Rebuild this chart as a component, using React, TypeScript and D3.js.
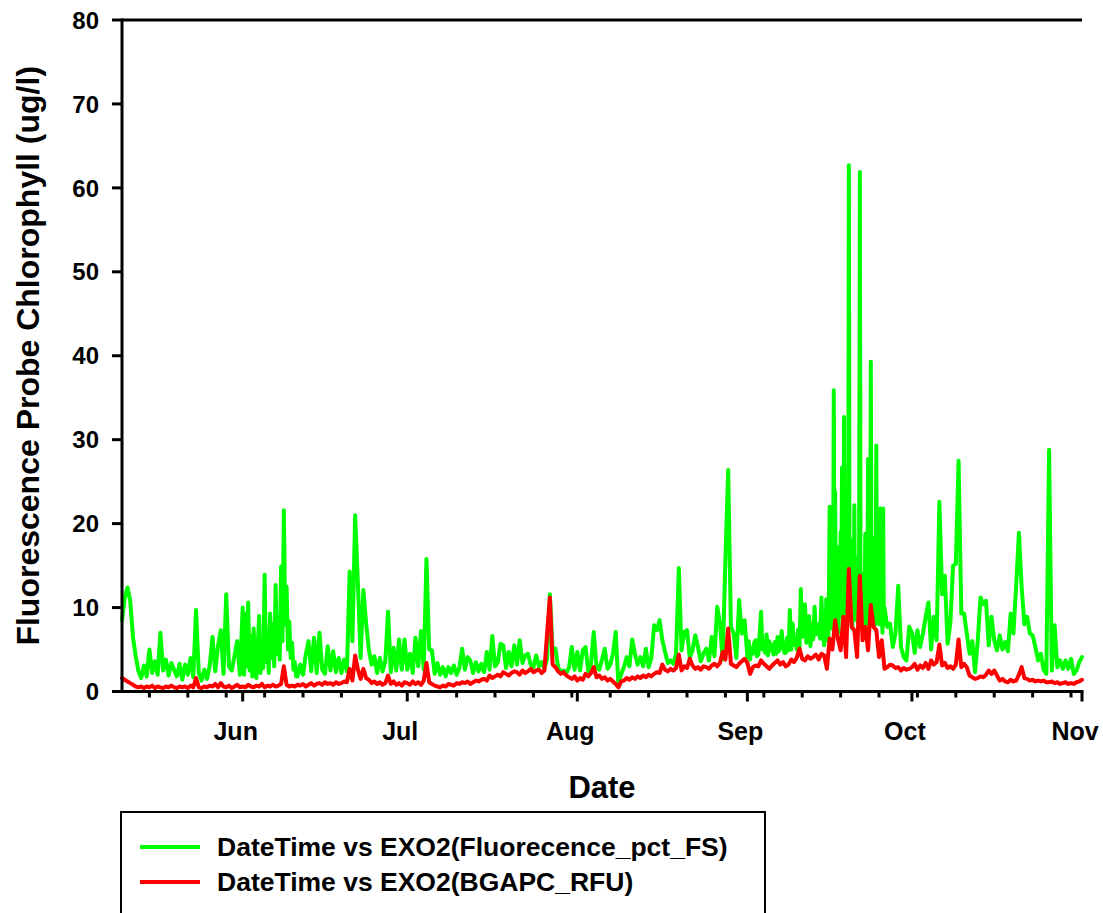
import React from 'react';
import * as d3 from 'd3';

// ---- EXO2 fluorescence (ug/l) ----
// half-day readings from 2016-05-10
const greenMay = [
  8.5, 11.2, 12.4, 10.8, 6.5, 4.2, 2.4, 1.6, 3.1, 1.8,
  5.0, 2.2, 3.6, 2.0, 7.0, 2.5, 3.8, 1.9, 3.4, 2.6,
  1.8, 3.3, 1.4, 3.2, 2.0, 4.0, 1.7, 9.7, 2.2, 1.3,
  2.6, 1.5, 3.1, 6.5, 2.4, 5.4, 7.3, 2.1, 11.6, 3.0,
  2.5, 4.2, 6.0, 2.0,
];
// 6-hourly readings, 2016-06-01 .. 06-10
const greenJunEarly = [
  10.0, 2.0, 9.3, 3.0, 10.6, 2.5, 6.6, 1.8, 7.5, 3.2,
  1.6, 5.5, 9.0, 2.2, 6.0, 2.8, 13.9, 3.5, 7.0, 2.2,
  9.3, 4.0, 8.0, 3.0, 12.7, 4.5, 9.0, 3.8, 14.9, 6.0,
  21.6, 8.0, 12.5, 5.0, 8.3, 4.0, 5.8, 2.6, 3.5, 1.8,
];
// half-day readings from 2016-06-11
const greenJun = [
  1.8, 3.2, 2.0, 4.4, 6.0, 2.4, 6.4, 2.2, 7.0, 2.6,
  2.1, 5.4, 2.5, 4.8, 2.3, 4.0, 2.2, 3.8, 2.4, 14.3,
  6.0, 21.0, 12.9, 4.0, 12.1, 8.1, 5.0, 3.2, 4.2, 2.2,
  4.0, 2.4, 3.6, 9.5, 2.3, 5.2, 2.5, 6.2, 2.6, 6.2,
];
const greenJul = [
  2.6, 4.5, 2.2, 6.4, 3.0, 7.2, 2.6, 15.8, 5.0, 4.9,
  2.1, 3.4, 2.0, 2.9, 1.8, 2.9, 2.2, 3.1, 2.0, 2.8,
  5.1, 2.6, 4.1, 3.7, 2.2, 3.5, 2.4, 3.3, 2.3, 4.7,
  2.6, 6.6, 3.0, 3.5, 5.7, 5.5, 2.8, 4.7, 3.0, 5.5,
  3.2, 6.1, 3.4, 4.3, 4.5, 3.2, 2.9, 4.3, 3.0, 3.5,
  2.7, 3.9, 11.6, 4.9, 5.1, 2.9, 2.3, 2.5, 2.2, 2.9,
  5.3, 2.6,
];
const greenAug = [
  4.7, 2.5, 4.9, 5.3, 2.4, 3.3, 7.1, 2.9, 2.6, 3.8,
  5.1, 2.7, 3.2, 4.5, 7.1, 0.6, 2.1, 2.9, 4.1, 3.0,
  6.2, 4.5, 3.2, 4.1, 3.0, 5.1, 2.9, 4.0, 7.9, 7.3,
  8.5, 6.1, 4.7, 3.4, 3.7, 3.3, 4.5, 14.7, 4.9, 7.1,
  7.3, 4.0, 4.9, 6.7, 5.3, 3.6, 4.5, 5.1, 3.7, 6.5,
  4.2, 10.1, 8.1, 3.8, 15.8, 26.4, 7.7, 6.9, 4.0, 10.9,
  6.9, 8.5,
];
// 6-hourly readings, 2016-09-01 .. 09-14
const greenSepEarly = [
  4.1, 6.0, 3.8, 5.2, 4.5, 5.8, 6.1, 4.2, 4.4, 7.0,
  9.5, 5.0, 5.3, 4.6, 6.8, 4.3, 6.0, 4.9, 5.5, 4.4,
  5.9, 4.5, 6.5, 4.8, 5.3, 7.2, 5.5, 4.6, 4.6, 6.4,
  4.9, 9.7, 5.0, 8.1, 5.6, 6.1, 5.0, 7.4, 4.8, 12.2,
  6.5, 7.6, 10.4, 5.8, 6.1, 9.0, 5.4, 8.1, 6.2, 10.1,
  6.8, 7.7, 8.0, 6.3, 11.2, 7.0,
];
// 3-hourly readings during the bloom, 2016-09-15 .. 09-25
const greenSepBloom = [
  5.5, 8.0, 6.5, 11.0, 7.0, 9.5, 6.0, 12.0,
  22.0, 9.0, 14.0, 7.5, 21.6, 10.0, 35.9, 12.0,
  23.8, 8.0, 13.0, 9.5, 17.2, 7.0, 14.0, 11.0,
  19.0, 9.0, 26.7, 12.0, 8.5, 32.7, 10.0, 15.0,
  16.0, 8.0, 18.0, 11.0, 62.7, 9.0, 16.0, 12.5,
  18.0, 7.5, 14.0, 10.0, 22.2, 9.0, 16.0, 8.5,
  14.0, 10.5, 8.0, 16.0, 61.9, 10.0, 14.0, 9.0,
  14.0, 7.0, 12.0, 9.5, 18.8, 11.0, 13.0, 8.0,
  27.7, 12.0, 18.4, 9.0, 39.3, 14.0, 18.4, 10.0,
  16.0, 9.0, 12.0, 8.0, 29.3, 11.0, 14.0, 9.0,
  14.0, 8.0, 21.8, 10.0, 12.0, 7.0, 21.8, 8.0,
];
// half-day readings from 2016-09-26
const greenSepLate = [10.0, 7.7, 8.1, 5.3, 6.9, 12.6, 5.3, 4.1, 3.7, 7.7];
// half-day readings from 2016-10-01 through 11-01
const greenOct = [
  7.0, 4.6, 7.3, 5.3, 6.9, 8.9, 10.6, 5.0, 8.9, 6.1,
  22.6, 11.6, 13.8, 5.7, 8.1, 15.0, 15.2, 27.5, 9.3, 9.3,
  6.9, 4.5, 6.0, 2.3, 6.1, 11.2, 10.4, 10.8, 5.5, 8.9,
  6.1, 4.9, 6.7, 5.0, 5.9, 4.8, 9.3, 6.9, 12.6, 18.9,
  12.4, 8.0, 8.9, 6.9, 6.7, 5.3, 3.7, 4.5, 2.6, 2.1,
  28.8, 2.5, 7.9, 2.9, 3.7, 2.7, 3.7, 2.7, 3.9, 2.1,
  2.5, 3.5, 4.1,
];

// ---- EXO2 BGAPC RFU, half-day readings from 2016-05-10 ----
const redMay = [
  1.6, 1.4, 1.2, 1.0, 0.8, 0.6, 0.5, 0.6, 0.4, 0.6,
  0.5, 0.7, 0.4, 0.6, 0.5, 0.4, 0.6, 0.5, 0.7, 0.5,
  0.4, 0.6, 0.5, 0.6, 0.4, 0.7, 0.5, 1.6, 0.5, 0.4,
  0.6, 0.5, 0.7, 0.6, 0.9, 0.5, 1.0, 0.6, 0.5, 0.7,
  0.4, 0.6, 0.8, 0.5,
];
const redJun = [
  0.6, 0.5, 0.8, 0.6, 0.5, 0.7, 0.6, 0.9, 0.5, 0.7,
  0.6, 0.8, 0.6, 0.7, 0.9, 3.0, 0.8, 0.6, 0.7, 0.6,
  0.8, 0.7, 0.9, 0.6, 0.8, 1.0, 0.7, 0.9, 1.0, 0.8,
  1.1, 0.9, 1.0, 0.8, 1.1, 0.9, 1.0, 1.2, 1.1, 2.7,
  1.3, 4.3, 2.6, 1.5, 2.7, 1.6, 1.4, 1.0, 1.2, 0.9,
  1.1, 0.8, 1.0, 1.9, 0.9, 1.2, 0.8, 1.0, 0.7, 1.1,
];
const redJul = [
  1.0, 0.8, 1.2, 0.9, 1.1, 0.8, 1.3, 3.4, 1.1, 0.9,
  0.7, 0.6, 0.5, 0.7, 0.6, 0.9, 0.8, 0.7, 1.0, 0.9,
  1.1, 1.0, 1.2, 0.9, 1.1, 1.3, 1.2, 1.4, 1.5, 1.3,
  1.9, 1.6, 1.8, 2.0, 1.8, 2.3, 2.1, 1.9, 2.2, 2.4,
  2.3, 2.0, 2.5, 2.2, 2.4, 2.7, 2.3, 2.5, 2.6, 2.2,
  2.5, 7.0, 11.2, 3.2, 2.9, 2.4, 2.1, 2.3, 1.9, 1.7,
  1.5, 1.8,
];
const redAug = [
  1.3, 1.6, 1.4, 2.1, 1.8, 2.2, 2.9, 1.7, 1.9, 1.5,
  1.7, 1.3, 1.5, 1.2, 0.9, 0.5, 1.2, 1.3, 1.6, 1.4,
  1.7, 1.5, 1.8, 1.6, 1.9, 1.7, 2.0, 1.8, 2.1, 2.3,
  2.2, 3.2, 2.6, 2.4, 2.7, 2.5, 2.8, 4.4, 2.5, 3.0,
  2.8, 3.9, 3.1, 2.7, 2.9, 2.6, 3.0, 2.9, 2.7, 3.1,
  3.3, 3.0, 3.4, 4.7, 3.8, 7.5, 3.3, 3.1, 2.9, 3.3,
  3.6, 3.9,
];
const redSep = [
  3.4, 2.1, 2.9, 3.1, 3.0, 3.7, 3.3, 3.0, 2.7, 3.1,
  3.4, 3.7, 3.2, 3.5, 3.0, 3.2, 3.8, 3.5, 4.0, 5.1,
  3.9, 3.7, 4.2, 3.9, 4.1, 4.4, 3.8, 4.5, 4.3, 2.7,
  6.3, 5.0, 8.5, 6.3, 4.9, 8.9, 4.1, 14.6, 7.7, 7.3,
  4.1, 13.8, 6.1, 7.7, 4.9, 10.3, 7.7, 7.3, 4.1, 6.1,
  2.7, 2.9, 3.2, 3.1, 2.8, 2.9, 2.5, 2.8, 2.6, 2.7,
];
const redOct = [
  2.9, 3.3, 2.6, 3.1, 2.8, 3.4, 2.7, 3.7, 3.2, 3.5,
  5.6, 3.1, 3.4, 2.8, 3.0, 2.7, 3.2, 6.2, 2.9, 3.3,
  2.9, 1.9, 1.7, 1.5, 1.6, 1.8, 1.7, 2.0, 2.5, 2.1,
  2.5, 1.9, 1.3, 1.5, 1.2, 1.1, 1.4, 1.2, 1.3, 2.0,
  2.9, 1.6, 1.5, 1.3, 1.4, 1.2, 1.3, 1.2, 1.3, 1.1,
  1.1, 1.2, 1.0, 1.1, 0.9, 1.0, 1.1, 0.9, 1.0, 0.9,
  1.1, 1.2, 1.4,
];

const Y_TICKS = [0, 10, 20, 30, 40, 50, 60, 70, 80];
const MONTH_LABELS = ['Jun', 'Jul', 'Aug', 'Sep', 'Oct', 'Nov'];
const LEGEND_LABELS = [
  'DateTime vs EXO2(Fluorecence_pct_FS)',
  'DateTime vs EXO2(BGAPC_RFU)',
];

type Segment = { start: string; stepHours: number; values: number[] };
type Pt = { t: Date; v: number };

const greenSegments: Segment[] = [
  { start: '2016-05-10', stepHours: 12, values: greenMay },
  { start: '2016-06-01', stepHours: 6, values: greenJunEarly },
  { start: '2016-06-11', stepHours: 12, values: greenJun },
  { start: '2016-07-01', stepHours: 12, values: greenJul },
  { start: '2016-08-01', stepHours: 12, values: greenAug },
  { start: '2016-09-01', stepHours: 6, values: greenSepEarly },
  { start: '2016-09-15', stepHours: 3, values: greenSepBloom },
  { start: '2016-09-26', stepHours: 12, values: greenSepLate },
  { start: '2016-10-01', stepHours: 12, values: greenOct },
];
const redSegments: Segment[] = [
  { start: '2016-05-10', stepHours: 12, values: redMay },
  { start: '2016-06-01', stepHours: 12, values: redJun },
  { start: '2016-07-01', stepHours: 12, values: redJul },
  { start: '2016-08-01', stepHours: 12, values: redAug },
  { start: '2016-09-01', stepHours: 12, values: redSep },
  { start: '2016-10-01', stepHours: 12, values: redOct },
];

function toPoints(segs: Segment[]): Pt[] {
  const out: Pt[] = [];
  for (const s of segs) {
    const t0 = new Date(s.start + 'T00:00:00Z');
    s.values.forEach((v, i) => {
      out.push({ t: d3.utcHour.offset(t0, i * s.stepHours), v });
    });
  }
  return out;
}

const W = 1103;
const H = 913;
const LEFT = 122;
const RIGHT = 1082;
const TOP = 20;
const BOTTOM = 691.5;
const FONT = '"Liberation Sans", Arial, Helvetica, sans-serif';

export default function App() {
  const start = new Date(Date.UTC(2016, 4, 10));
  const end = new Date(Date.UTC(2016, 10, 1));
  const x = d3.scaleUtc().domain([start, end]).range([LEFT, RIGHT]);
  const y = d3.scaleLinear().domain([0, 80]).range([BOTTOM, TOP]);

  const line = d3
    .line<Pt>()
    .x((d) => x(d.t))
    .y((d) => y(d.v));

  const green = toPoints(greenSegments);
  const red = toPoints(redSegments);

  const weeks = d3.utcSunday.range(start, end);
  const months = d3.utcMonth.range(d3.utcMonth.ceil(start), d3.utcDay.offset(end, 1));

  return (
    <svg
      width={W}
      height={H}
      style={{ position: 'absolute', left: 0, top: 0, background: '#fff' }}
      fontFamily={FONT}
      fontWeight="bold"
    >
      <rect x={0} y={0} width={W} height={H} fill="#fff" />

      {/* data lines */}
      <path d={line(green) ?? ''} fill="none" stroke="#00ff00" strokeWidth={4} strokeLinejoin="round" strokeLinecap="round" />
      <path d={line(red) ?? ''} fill="none" stroke="#ff0000" strokeWidth={4} strokeLinejoin="round" strokeLinecap="round" />

      {/* frame */}
      <line x1={LEFT} x2={LEFT} y1={TOP - 1.5} y2={BOTTOM + 1.5} stroke="#000" strokeWidth={3} />
      <line x1={LEFT} x2={RIGHT} y1={TOP} y2={TOP} stroke="#000" strokeWidth={3} />
      <line x1={LEFT} x2={RIGHT + 1.5} y1={BOTTOM} y2={BOTTOM} stroke="#000" strokeWidth={3} />

      {/* y axis */}
      {Y_TICKS.map((t) => (
        <g key={t}>
          <line x1={112} x2={LEFT} y1={y(t)} y2={y(t)} stroke="#000" strokeWidth={3} />
          <text x={99} y={y(t)} dy="0.36em" textAnchor="end" fontSize={24} fill="#000">
            {t}
          </text>
        </g>
      ))}

      {/* x axis: weekly minor ticks, monthly major ticks */}
      {weeks.map((d) => (
        <line key={+d} x1={x(d)} x2={x(d)} y1={BOTTOM} y2={BOTTOM + 6} stroke="#000" strokeWidth={3} />
      ))}
      {months.map((d, i) => (
        <g key={+d}>
          <line x1={x(d)} x2={x(d)} y1={BOTTOM} y2={BOTTOM + 10} stroke="#000" strokeWidth={3} />
          <text x={x(d) - 7} y={740} textAnchor="middle" fontSize={25} fill="#000">
            {MONTH_LABELS[i]}
          </text>
        </g>
      ))}

      {/* axis titles */}
      <text x={(LEFT + RIGHT) / 2} y={798} textAnchor="middle" fontSize={31} fill="#000">
        Date
      </text>
      <text
        transform={`translate(39,${(TOP + BOTTOM) / 2}) rotate(-90)`}
        textAnchor="middle"
        fontSize={32}
        fill="#000"
      >
        Fluorescence Probe Chlorophyll (ug/l)
      </text>

      {/* legend */}
      <rect x={121} y={812} width={644} height={200} fill="#fff" stroke="#000" strokeWidth={2} />
      {LEGEND_LABELS.map((label, i) => (
        <g key={label}>
          <line
            x1={140}
            x2={200}
            y1={847 + i * 35}
            y2={847 + i * 35}
            stroke={i === 0 ? '#00ff00' : '#ff0000'}
            strokeWidth={4}
          />
          <text x={217} y={856 + i * 35} fontSize={26.5} fill="#000">
            {label}
          </text>
        </g>
      ))}
    </svg>
  );
}
